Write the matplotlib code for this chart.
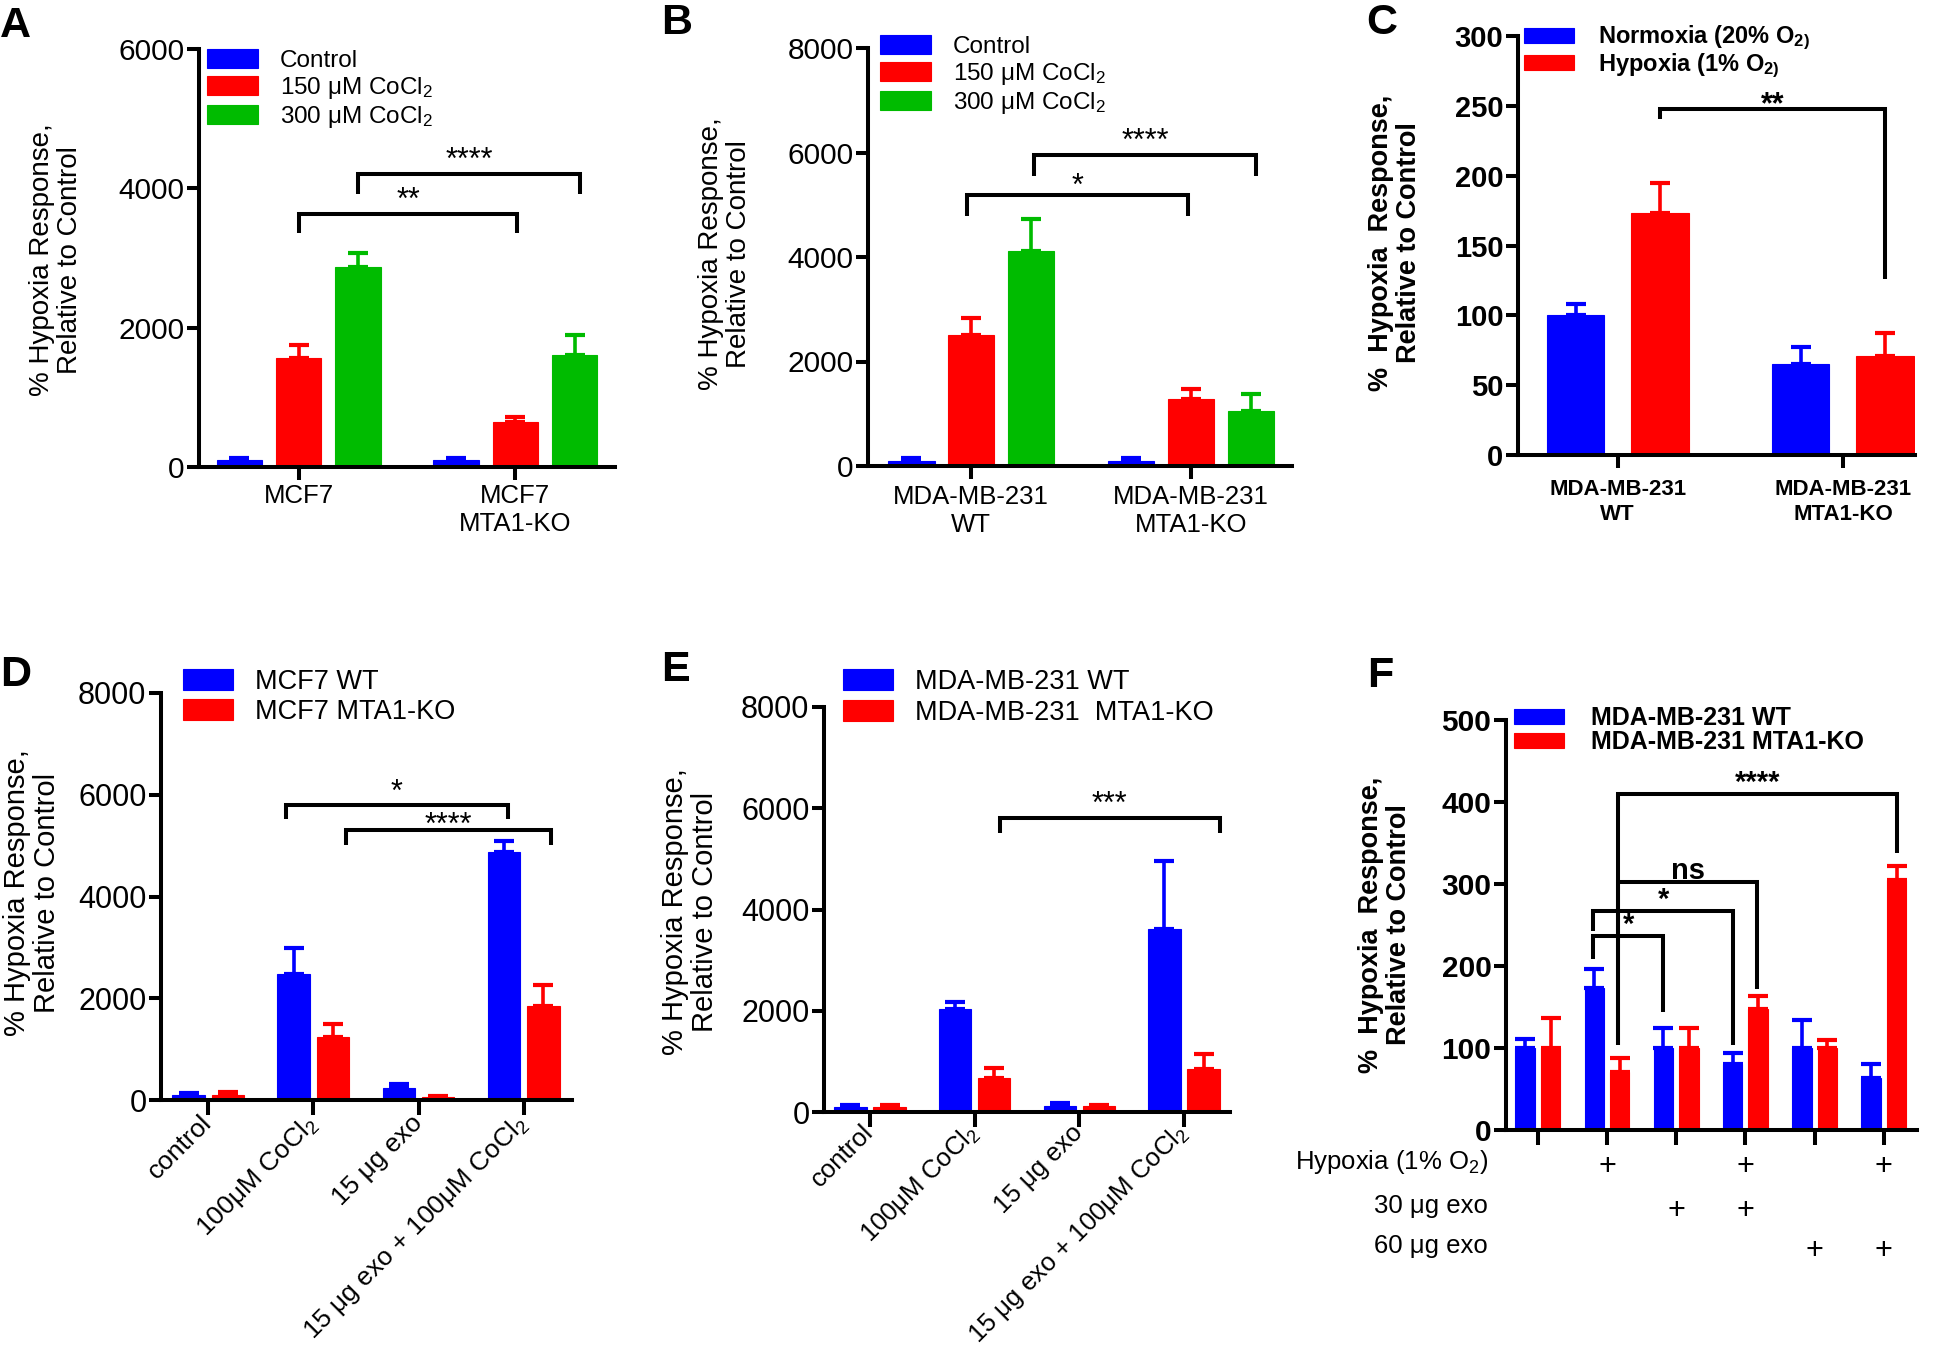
import matplotlib.pyplot as plt
import numpy as np

plt.rcParams['font.family'] = ['Liberation Sans', 'DejaVu Sans']
plt.rcParams['mathtext.fontset'] = 'custom'
plt.rcParams['mathtext.rm'] = 'Liberation Sans'
plt.rcParams['mathtext.it'] = 'Liberation Sans:italic'
plt.rcParams['mathtext.bf'] = 'Liberation Sans:bold'

W, H = 1940, 1348
BLUE, RED, GREEN = '#0000ff', '#ff0000', '#00bb00'

# ---- data ----
# A: MCF7, CoCl2
a_cats = ['MCF7', 'MCF7\nMTA1-KO']
a_series = ['Control', '150 μM CoCl$_2$', '300 μM CoCl$_2$']
a_vals = [[100, 100], [1570, 650], [2870, 1610]]
a_errs = [[30, 30], [180, 70], [200, 290]]
a_sig = [(0.0, 1.01, 3637, 3354, 3354, '**'),
         (0.276, 1.30, 4212, 3920, 3920, '****')]

# B: MDA-MB-231, CoCl2
b_cats = ['MDA-MB-231\nWT', 'MDA-MB-231\nMTA1-KO']
b_series = ['Control', '150 μM CoCl$_2$', '300 μM CoCl$_2$']
b_vals = [[100, 100], [2500, 1285], [4120, 1045]]
b_errs = [[50, 50], [340, 190], [600, 330]]
b_sig = [(-0.02, 0.986, 5185, 4786, 4786, '*'),
         (0.287, 1.297, 5960, 5549, 5549, '****')]

# C: normoxia / hypoxia
c_cats = ['MDA-MB-231\nWT', 'MDA-MB-231\nMTA1-KO']
c_series = ['Normoxia (20% O$_{\\mathbf{2)}}$', 'Hypoxia (1% O$_{\\mathbf{2)}}$']
c_vals = [[100, 65], [173, 71]]
c_errs = [[8, 12], [22, 16]]
c_sig = [(0.1875, 1.1875, 247.5, 240.6, 126, '**')]

# D: MCF7 + exosomes
d_cats = ['control', '100μM CoCl$_2$', '15 μg exo', '15 μg exo + 100μM CoCl$_2$']
d_series = ['MCF7 WT', 'MCF7 MTA1-KO']
d_vals = [[100, 2480, 230, 4880], [100, 1230, 50, 1850]]
d_errs = [[40, 500, 90, 210], [60, 260, 20, 410]]
d_sig = [(0.74, 2.85, 5798, 5530, 5530, '*'),
         (1.31, 3.26, 5307, 5022, 5022, '****')]

# E: MDA-MB-231 + exosomes
e_cats = ['control', '100μM CoCl$_2$', '15 μg exo', '15 μg exo + 100μM CoCl$_2$']
e_series = ['MDA-MB-231 WT', 'MDA-MB-231  MTA1-KO']
e_vals = [[100, 2030, 110, 3610], [100, 670, 110, 850]]
e_errs = [[40, 145, 70, 1355], [40, 190, 35, 295]]
e_sig = [(1.24, 3.34, 5816, 5504, 5504, '***')]

# F: hypoxia + exosomes
f_series = ['MDA-MB-231 WT', 'MDA-MB-231 MTA1-KO']
f_vals = [[100, 173, 100, 80, 100, 64], [100, 71, 100, 148, 100, 305]]
f_errs = [[11, 23, 24, 14, 34, 16], [37, 17, 24, 15, 10, 17]]
f_rows = ['Hypoxia (1% O$_2$)', '30 μg exo', '60 μg exo']
f_marks = [[0, 1, 0, 1, 0, 1], [0, 0, 1, 1, 0, 0], [0, 0, 0, 0, 1, 1]]
f_sig = [(1.16, 5.19, 410, 104, 338, '****'),
         (1.16, 3.17, 302, 104, 172, 'ns'),
         (0.80, 2.82, 267, 243, 103.5, '*'),
         (0.80, 1.81, 237, 208, 144, '*')]

fig = plt.figure(figsize=(W / 100, H / 100), dpi=100)


def add_axes(L, R, T, B):
    return fig.add_axes([L / W, 1 - B / H, (R - L) / W, (B - T) / H])


def style(ax, xlim, ylim, step, size, bold=False, xlen=9.5):
    for s in ['top', 'right']:
        ax.spines[s].set_visible(False)
    for s in ['left', 'bottom']:
        ax.spines[s].set_linewidth(2.9)
    ax.set_xlim(*xlim)
    ax.set_ylim(*ylim)
    ax.set_yticks(np.arange(ylim[0], ylim[1] + 1, step))
    ax.tick_params(axis='y', direction='out', length=8.5, width=2.9, labelsize=size, pad=2)
    ax.tick_params(axis='x', direction='out', length=xlen, width=2.9)
    if bold:
        for t in ax.get_yticklabels():
            t.set_fontweight('bold')


def draw_bars(ax, pos, vals, errs, color, width, label):
    pos = np.asarray(pos, dtype=float)
    ax.bar(pos, vals, width, color=color, edgecolor=color, lw=0.8, label=label, zorder=2)
    ax.errorbar(pos, vals, yerr=[np.zeros(len(errs)), errs], fmt='none', ecolor=color,
                elinewidth=2.6, capsize=7, capthick=3, zorder=2)


def draw_sig(ax, sig, size, bold=False, dy=None):
    if dy is None:
        dy = [-2] * len(sig)
    for (x1, x2, y, y1, y2, txt), off in zip(sig, dy):
        ax.plot([x1, x1, x2, x2], [y1, y, y, y2], color='k', lw=2.9,
                solid_joinstyle='miter', solid_capstyle='butt', clip_on=False, zorder=3)
        ax.annotate(txt, ((x1 + x2) / 2, y), xytext=(0, off), textcoords='offset points',
                    ha='center', va='bottom', fontsize=size,
                    fontweight='bold' if bold else 'normal')


def legend(ax, x, y, size, hl, hh, pad, spacing, bold=False):
    ax.legend(loc='upper left', bbox_to_anchor=(x / W, 1 - y / H), bbox_transform=fig.transFigure,
              frameon=False, prop={'size': size, 'weight': 'bold' if bold else 'normal'},
              handlelength=hl, handleheight=hh, handletextpad=pad, labelspacing=spacing,
              borderpad=0, borderaxespad=0)


def ylabel(x, y, text, size, bold=False):
    fig.text(x / W, 1 - y / H, text, rotation=90, ha='center', va='center', fontsize=size,
             fontweight='bold' if bold else 'normal', multialignment='center', linespacing=1.1)


def letter(x, y, s):
    fig.text(x / W, 1 - y / H, s, fontsize=31, fontweight='bold', ha='left', va='top')


# ---- A ----
ax = add_axes(199, 615, 49, 467)
for i, (lab, col) in enumerate(zip(a_series, [BLUE, RED, GREEN])):
    draw_bars(ax, np.arange(2) + (i - 1) * 0.274, a_vals[i], a_errs[i], col, 0.21, lab)
style(ax, (-0.46, 1.46), (0, 6000), 2000, 21.5)
ax.set_xticks([0, 1])
ax.set_xticklabels(a_cats, fontsize=18.5)
ax.tick_params(axis='x', pad=3)
draw_sig(ax, a_sig, 22)
legend(ax, 207, 49, 17.5, 2.1, 0.82, 0.9, 0.12)
ylabel(56, 260, '% Hypoxia Response,\nRelative to Control', 20)
letter(0, 6, 'A')

# ---- B ----
ax = add_axes(868, 1292, 48, 466)
for i, (lab, col) in enumerate(zip(b_series, [BLUE, RED, GREEN])):
    draw_bars(ax, np.arange(2) + (i - 1) * 0.272, b_vals[i], b_errs[i], col, 0.21, lab)
style(ax, (-0.47, 1.46), (0, 8000), 2000, 21.5)
ax.set_xticks([0, 1])
ax.set_xticklabels(b_cats, fontsize=18.5)
ax.tick_params(axis='x', pad=4)
draw_sig(ax, b_sig, 22, dy=[-5, -2])
legend(ax, 880, 35, 17.5, 2.1, 0.82, 0.9, 0.12)
ylabel(725, 254, '% Hypoxia Response,\nRelative to Control', 20)
letter(661, 3, 'B')

# ---- C ----
ax = add_axes(1518, 1915, 36, 455)
for i, (lab, col) in enumerate(zip(c_series, [BLUE, RED])):
    draw_bars(ax, np.arange(2) + (i - 0.5) * 0.375, c_vals[i], c_errs[i], col, 0.255, lab)
style(ax, (-0.443, 1.32), (0, 300), 50, 21, bold=True)
ax.set_xticks([0, 1])
ax.set_xticklabels(c_cats, fontsize=16, fontweight='bold')
ax.tick_params(axis='x', pad=8)
draw_sig(ax, c_sig, 22, bold=True, dy=[-8])
legend(ax, 1524, 24, 17, 2.1, 0.58, 1.05, -0.05, bold=True)
ylabel(1395, 243, '%  Hypoxia  Response,\nRelative to Control', 19.5, bold=True)
letter(1366, 3, 'C')

# ---- D ----
ax = add_axes(161, 572, 693, 1100)
for i, (lab, col) in enumerate(zip(d_series, [BLUE, RED])):
    draw_bars(ax, np.arange(4) + (i - 0.5) * 0.374, d_vals[i], d_errs[i], col, 0.31, lab)
style(ax, (-0.45, 3.46), (0, 8000), 2000, 22, xlen=11)
ax.set_xticks(range(4))
ax.set_xticklabels(d_cats, fontsize=19, rotation=45, ha='right', va='center', rotation_mode='anchor')
ax.tick_params(axis='x', pad=3)
draw_sig(ax, d_sig, 22, dy=[-2, -8])
legend(ax, 183, 669, 19.5, 1.85, 0.78, 0.8, 0.15)
ylabel(32, 893, '% Hypoxia Response,\nRelative to Control', 21)
letter(0, 655, 'D')

# ---- E ----
ax = add_axes(824, 1230, 707, 1112)
for i, (lab, col) in enumerate(zip(e_series, [BLUE, RED])):
    draw_bars(ax, np.arange(4) + (i - 0.5) * 0.374, e_vals[i], e_errs[i], col, 0.31, lab)
style(ax, (-0.44, 3.44), (0, 8000), 2000, 22, xlen=11)
ax.set_xticks(range(4))
ax.set_xticklabels(e_cats, fontsize=18.5, rotation=45, ha='right', va='center', rotation_mode='anchor')
ax.tick_params(axis='x', pad=1)
draw_sig(ax, e_sig, 22)
legend(ax, 843, 669, 19.5, 1.85, 0.78, 0.82, 0.18)
ylabel(690, 912, '% Hypoxia Response,\nRelative to Control', 21)
letter(661, 650, 'E')

# ---- F ----
ax = add_axes(1506, 1917, 720, 1130)
for i, (lab, col) in enumerate(zip(f_series, [BLUE, RED])):
    draw_bars(ax, np.arange(6) + (i - 0.5) * 0.368, f_vals[i], f_errs[i], col, 0.28, lab)
style(ax, (-0.46, 5.48), (0, 500), 100, 21.5, bold=True, xlen=11)
ax.set_xticks(range(6))
ax.set_xticklabels([])
draw_sig(ax, f_sig, 21, bold=True)
legend(ax, 1514, 706, 18, 2.0, 0.55, 1.1, 0.0, bold=True)
ylabel(1385, 925, '%  Hypoxia  Response,\nRelative to Control', 19.5, bold=True)
letter(1367, 656, 'F')
tr = ax.get_xaxis_transform()
for row, (name, marks) in enumerate(zip(f_rows, f_marks)):
    yy = [-0.078, -0.185, -0.283][row]
    ax.text(-0.044, yy, name, transform=ax.transAxes, ha='right', va='center', fontsize=18.5)
    for g, m in enumerate(marks):
        if m:
            ax.text(g, yy - 0.012, '+', transform=tr, ha='center', va='center', fontsize=22)

fig.savefig('out.png', dpi=100)
